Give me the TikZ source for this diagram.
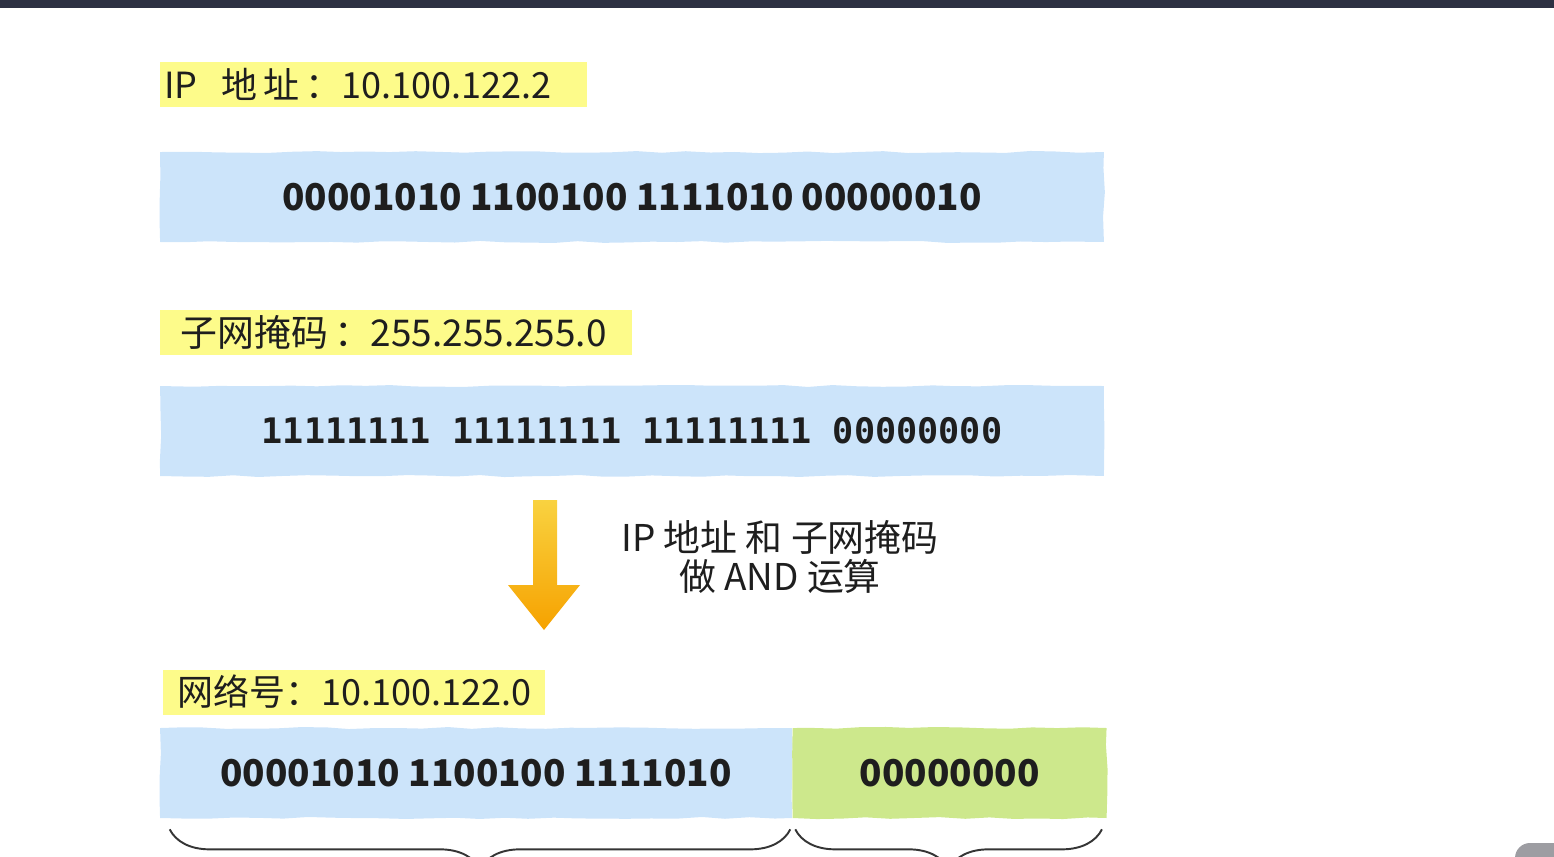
\documentclass[tikz,border=0pt]{standalone}
\usepackage{fontspec}
\setmainfont{Noto Sans CJK SC}
\newfontfamily\bitsmono{DejaVu Sans Mono}
\usetikzlibrary{positioning,decorations.pathmorphing,decorations.pathreplacing}
\definecolor{topbar}{HTML}{2D3143}
\definecolor{hlyellow}{HTML}{FDFB8A}
\definecolor{bitblue}{HTML}{CCE4FA}
\definecolor{hostgreen}{HTML}{CDE88C}
\definecolor{arrtop}{HTML}{F9D240}
\definecolor{arrbot}{HTML}{F6A200}
\definecolor{ink}{HTML}{1E1E1E}
\definecolor{tabgray}{HTML}{9D9DA2}
\newcommand{\lbl}{\fontsize{20.5}{24}\selectfont}
\newcommand{\bits}{\fontsize{21}{24}\selectfont\bfseries}

\begin{document}
\begin{tikzpicture}[x=0.02cm,y=-0.02cm,
  hl/.style={fill=hlyellow, anchor=west, align=left, minimum height=0.9cm, inner ysep=0pt, text=ink, font=\lbl},
  bitbox/.style={fill=bitblue, minimum height=1.8cm, inner sep=0pt, text=ink, font=\bits,
    decorate, decoration={random steps, segment length=14pt, amplitude=0.6pt}},
  brace/.style={draw=ink!90, line width=1.1pt, decorate, decoration={brace, amplitude=0.8cm}}]
\useasboundingbox (0,0) rectangle (1554,856);
\fill[topbar] (0,0) rectangle (1554,8);
% IP address
\node[hl, inner xsep=0.08cm, text width=8.38cm] (iplabel) at (160,84) {IP\ \ 地\,址\,：10.100.122.2};
\node[bitbox, minimum width=18.88cm] (ipbits) at (632,197) {00001010 1100100 1111010 00000010};
% subnet mask
\node[hl, inner xsep=0.4cm, text width=8.64cm, font=\fontsize{21}{24}\selectfont] (masklabel) at (160,332) {子网掩码\,：255.255.255.0};
\node[bitbox, minimum width=18.88cm, font=\bitsmono\fontsize{20}{24}\selectfont\bfseries] (maskbits) at (632,431) {11111111 11111111 11111111 00000000};
% AND
\coordinate (arrtail) at (545,500);
\shade[top color=arrtop, bottom color=arrbot] (arrtail) ++(-12,0) -- ++(24,0) -- ++(0,85) -- ++(23,0) -- (544,630) -- (508,585) -- ++(25,0) -- cycle;
\node[align=center, text=ink, font=\fontsize{21}{22.7}\selectfont] (andnote) at (780,557) {IP 地址 和 子网掩码\\做 AND 运算};
% network number
\node[hl, inner xsep=0.28cm, text width=7.08cm] (netlabel) at (163,692) {网络号：10.100.122.0};
\node[bitbox, minimum width=12.64cm] (netbits) at (476,773) {00001010 1100100 1111010};
\node[bitbox, fill=hostgreen, minimum width=6.28cm, right=0pt of netbits] (hostbits) {00000000};
\draw[brace] ([xshift=-0.04cm,yshift=-0.22cm]netbits.south east) -- ([xshift=0.2cm,yshift=-0.22cm]netbits.south west);
\draw[brace] ([xshift=-0.1cm,yshift=-0.22cm]hostbits.south east) -- ([xshift=0.06cm,yshift=-0.22cm]hostbits.south west);
\fill[tabgray, rounded corners=0.3cm] (1515,843) rectangle (1600,900);
\end{tikzpicture}
\end{document}
